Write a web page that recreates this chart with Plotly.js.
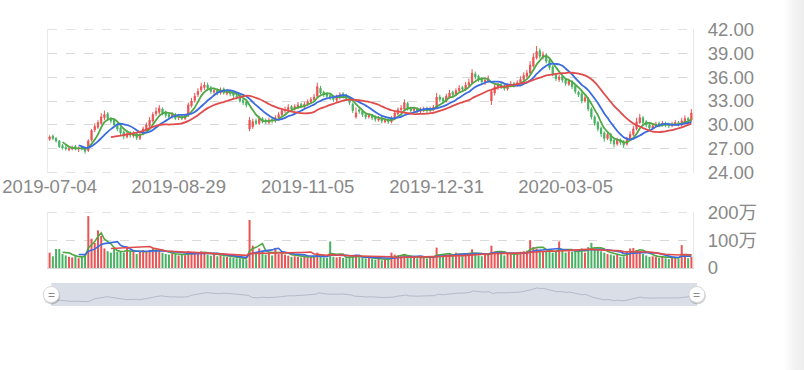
<!DOCTYPE html>
<html><head><meta charset="utf-8">
<script src="https://cdn.plot.ly/plotly-3.0.1.min.js"></script>
<style>
html,body{margin:0;padding:0;}
body{width:804px;height:370px;background:linear-gradient(to right,#ffffff 0px,#ffffff 784px,#f1f1f1 796px,#eeeeee 804px);overflow:hidden;}
#chart{width:804px;height:370px;}
</style>
</head><body><div id="chart"></div>
<script>
const dates = [
'2019-07-04','2019-07-05','2019-07-08','2019-07-09','2019-07-10','2019-07-11','2019-07-12','2019-07-15','2019-07-16','2019-07-17',
'2019-07-18','2019-07-19','2019-07-22','2019-07-23','2019-07-24','2019-07-25','2019-07-26','2019-07-29','2019-07-30','2019-07-31',
'2019-08-01','2019-08-02','2019-08-05','2019-08-06','2019-08-07','2019-08-08','2019-08-09','2019-08-12','2019-08-13','2019-08-14',
'2019-08-15','2019-08-16','2019-08-19','2019-08-20','2019-08-21','2019-08-22','2019-08-23','2019-08-26','2019-08-27','2019-08-28',
'2019-08-29','2019-08-30','2019-09-02','2019-09-03','2019-09-04','2019-09-05','2019-09-06','2019-09-09','2019-09-10','2019-09-11',
'2019-09-12','2019-09-16','2019-09-17','2019-09-18','2019-09-19','2019-09-20','2019-09-23','2019-09-24','2019-09-25','2019-09-26',
'2019-09-27','2019-10-09','2019-10-10','2019-10-11','2019-10-14','2019-10-15','2019-10-16','2019-10-17','2019-10-18','2019-10-21',
'2019-10-22','2019-10-23','2019-10-24','2019-10-25','2019-10-28','2019-10-29','2019-10-30','2019-10-31','2019-11-01','2019-11-04',
'2019-11-05','2019-11-06','2019-11-07','2019-11-08','2019-11-11','2019-11-12','2019-11-13','2019-11-14','2019-11-15','2019-11-18',
'2019-11-19','2019-11-20','2019-11-21','2019-11-22','2019-11-25','2019-11-26','2019-11-27','2019-11-28','2019-11-29','2019-12-02',
'2019-12-03','2019-12-04','2019-12-05','2019-12-06','2019-12-09','2019-12-10','2019-12-11','2019-12-12','2019-12-13','2019-12-16',
'2019-12-17','2019-12-18','2019-12-19','2019-12-20','2019-12-23','2019-12-24','2019-12-25','2019-12-26','2019-12-27','2019-12-30',
'2019-12-31','2020-01-02','2020-01-03','2020-01-06','2020-01-07','2020-01-08','2020-01-09','2020-01-10','2020-01-13','2020-01-14',
'2020-01-15','2020-01-16','2020-01-17','2020-01-20','2020-01-21','2020-01-22','2020-01-23','2020-02-03','2020-02-04','2020-02-05',
'2020-02-06','2020-02-07','2020-02-10','2020-02-11','2020-02-12','2020-02-13','2020-02-14','2020-02-17','2020-02-18','2020-02-19',
'2020-02-20','2020-02-21','2020-02-24','2020-02-25','2020-02-26','2020-02-27','2020-02-28','2020-03-02','2020-03-03','2020-03-04',
'2020-03-05','2020-03-06','2020-03-09','2020-03-10','2020-03-11','2020-03-12','2020-03-13','2020-03-16','2020-03-17','2020-03-18',
'2020-03-19','2020-03-20','2020-03-23','2020-03-24','2020-03-25','2020-03-26','2020-03-27','2020-03-30','2020-03-31','2020-04-01',
'2020-04-02','2020-04-03','2020-04-07','2020-04-08','2020-04-09','2020-04-10','2020-04-13','2020-04-14','2020-04-15','2020-04-16',
'2020-04-17','2020-04-20','2020-04-21','2020-04-22','2020-04-23','2020-04-24','2020-04-27','2020-04-28','2020-04-29','2020-04-30'
];
const openP = [
28.2,28.6,28.3,28.0,27.4,27.2,26.9,27.0,27.3,27.0,
27.2,26.9,26.8,28.1,29.4,29.7,30.2,30.9,31.4,30.7,
30.6,30.1,29.6,29.1,28.5,29.0,28.6,28.9,28.3,28.9,
29.4,29.9,30.5,31.4,31.6,32.0,31.6,31.3,31.0,31.3,
30.9,31.1,30.8,31.2,32.4,33.1,33.8,34.4,34.7,35.0,
34.7,34.1,34.4,34.0,34.5,33.9,34.2,34.0,33.6,33.6,
33.1,32.9,29.5,29.8,30.5,30.2,30.8,30.6,30.3,30.7,
30.5,30.9,31.3,31.8,31.9,32.3,32.0,32.2,32.6,32.3,
32.6,32.9,33.2,33.6,34.6,34.1,33.9,33.7,33.5,33.1,
33.4,33.9,33.7,33.4,32.6,31.0,31.9,31.7,31.3,31.0,
31.2,31.0,30.6,30.9,30.4,30.7,30.4,30.8,31.4,31.9,
32.0,32.7,32.1,31.8,32.0,31.7,31.8,32.1,31.8,31.9,
32.2,33.5,33.3,33.0,33.5,34.1,33.8,34.3,34.7,34.5,
35.0,35.3,36.4,36.1,35.8,35.3,35.5,33.0,34.0,34.7,
35.1,34.9,34.5,34.9,35.2,35.0,35.3,35.7,36.1,36.5,
37.4,38.4,39.3,38.5,38.8,38.1,37.3,36.3,35.7,36.1,
35.7,35.1,35.4,34.9,34.1,33.9,33.0,33.3,32.0,31.0,
30.3,29.6,29.0,28.3,28.8,28.1,27.6,28.1,27.9,27.6,
28.2,28.8,29.5,30.3,30.9,30.4,30.0,29.6,29.9,30.2,
30.0,30.2,30.1,29.9,30.1,30.3,30.0,30.4,30.8,30.6
];
const closeP = [
28.5,28.3,28.0,27.3,27.1,27.0,27.0,27.2,27.0,27.1,
27.0,26.7,28.0,29.3,29.8,30.3,31.0,31.3,30.8,30.5,
30.0,29.5,29.0,28.6,28.9,28.7,28.9,28.4,28.8,29.5,
30.0,30.6,31.3,31.7,32.1,31.5,31.2,31.0,31.3,30.8,
31.0,30.8,31.1,32.5,33.0,33.6,34.2,34.8,35.0,34.6,
34.2,34.3,34.0,34.4,34.0,34.2,33.9,33.7,33.5,33.0,
32.8,32.5,30.6,30.4,30.2,30.8,30.5,30.4,30.6,30.5,
30.9,31.3,31.8,31.9,32.2,32.0,32.3,32.5,32.4,32.6,
32.9,33.2,33.5,34.8,34.0,33.8,33.6,33.4,33.2,33.5,
33.8,33.6,33.3,32.8,31.8,31.5,31.7,31.3,31.0,31.2,
30.9,30.7,30.8,30.5,30.6,30.4,30.8,31.5,31.9,32.1,
32.8,32.0,31.8,32.0,31.7,31.9,32.0,31.8,32.0,32.2,
33.5,33.2,33.0,33.6,34.0,33.8,34.3,34.6,34.5,35.0,
35.3,36.5,36.0,35.7,35.4,35.6,35.8,34.2,34.8,35.0,
34.8,34.6,34.9,35.1,35.0,35.3,35.7,36.2,36.5,37.5,
38.5,39.2,38.6,38.8,38.0,37.2,36.4,35.8,36.0,35.6,
35.2,35.5,34.8,34.2,33.8,33.0,33.4,32.0,31.0,30.2,
29.5,28.9,28.3,28.8,28.0,27.6,28.1,27.8,27.5,28.2,
28.8,29.5,30.4,30.9,30.3,30.0,29.6,29.9,30.1,30.0,
30.2,30.0,29.9,30.1,30.3,30.0,30.5,30.8,30.6,31.5
];
const highP = [
28.7,28.8,28.5,28.1,27.6,27.4,27.2,27.4,27.5,27.3,
27.4,27.1,28.2,29.5,30.2,30.6,31.5,31.8,31.6,31.0,
30.8,30.3,29.8,29.3,29.2,29.2,29.2,29.0,29.0,29.8,
30.3,31.0,31.6,32.2,32.5,32.2,31.8,31.5,31.6,31.5,
31.3,31.3,31.4,32.8,33.4,34.0,34.6,35.3,35.4,35.3,
34.9,34.6,34.6,34.7,34.7,34.5,34.4,34.2,33.9,33.8,
33.3,33.1,31.0,30.8,30.8,31.1,31.0,30.8,30.9,30.9,
31.2,31.6,32.1,32.3,32.6,32.5,32.6,32.9,32.8,32.9,
33.2,33.5,33.9,35.3,34.9,34.3,34.1,33.9,33.7,33.8,
34.1,34.1,33.9,33.6,32.8,32.2,32.1,31.9,31.5,31.5,
31.4,31.2,31.1,31.1,30.9,30.9,31.1,31.8,32.2,32.5,
33.2,32.9,32.3,32.3,32.2,32.2,32.3,32.3,32.3,32.5,
34.0,33.8,33.5,33.9,34.4,34.3,34.6,35.0,34.9,35.4,
35.8,37.0,36.7,36.3,36.0,35.9,36.2,34.4,35.1,35.3,
35.3,35.1,35.2,35.5,35.4,35.6,36.1,36.6,36.9,38.0,
39.0,39.9,39.6,39.2,39.0,38.3,37.5,36.5,36.3,36.3,
35.9,35.8,35.6,35.1,34.3,34.1,33.7,33.5,32.2,31.2,
30.5,29.8,29.2,29.1,29.0,28.3,28.4,28.3,28.1,28.5,
29.2,29.9,30.9,31.4,31.1,30.6,30.2,30.2,30.4,30.4,
30.5,30.4,30.3,30.4,30.6,30.5,30.9,31.2,31.0,32.0
];
const lowP = [
28.0,28.1,27.8,27.1,26.9,26.8,26.7,26.8,26.8,26.6,
26.8,26.4,26.6,27.9,29.1,29.5,30.0,30.6,30.5,30.2,
29.8,29.2,28.7,28.2,28.3,28.4,28.4,28.1,28.1,28.7,
29.2,29.7,30.3,31.1,31.3,31.2,30.9,30.7,30.8,30.6,
30.6,30.6,30.6,31.0,32.2,32.8,33.5,34.1,34.4,34.3,
33.9,33.8,33.7,33.8,33.8,33.7,33.6,33.4,33.2,32.8,
32.5,32.2,29.2,29.5,30.0,30.0,30.2,30.1,30.1,30.2,
30.3,30.7,31.1,31.5,31.7,31.7,31.8,32.0,32.1,32.1,
32.4,32.7,33.0,33.4,33.8,33.5,33.3,33.1,32.9,32.9,
33.2,33.3,33.0,32.5,31.5,30.8,31.4,31.0,30.7,30.8,
30.6,30.4,30.4,30.2,30.2,30.1,30.2,30.6,31.2,31.7,
31.8,31.8,31.5,31.6,31.4,31.5,31.6,31.5,31.6,31.7,
32.0,32.9,32.7,32.8,33.3,33.5,33.6,34.1,34.2,34.3,
34.8,35.1,35.7,35.4,35.1,35.0,35.3,32.5,33.7,34.4,
34.5,34.3,34.3,34.7,34.7,34.8,35.1,35.5,35.9,36.3,
37.2,38.2,38.3,38.2,37.7,36.9,36.1,35.5,35.4,35.3,
34.9,34.9,34.5,33.9,33.5,32.7,32.8,31.7,30.7,29.9,
29.2,28.5,27.9,28.1,27.6,27.2,27.4,27.5,27.1,27.4,
28.0,28.6,29.3,30.1,30.0,29.7,29.3,29.4,29.7,29.7,
29.8,29.7,29.6,29.7,29.9,29.8,29.8,30.2,30.3,30.4
];
// volume in 万 (10,000 shares)
const volume = [
55,42,68,68,50,45,40,38,45,35,
42,50,186,105,90,135,115,70,60,55,
68,58,60,55,72,58,62,50,58,64,
60,65,70,62,66,55,50,48,52,50,
45,48,46,60,58,52,56,60,55,48,
44,50,42,45,42,40,38,36,35,34,
33,30,172,80,55,70,60,48,55,45,
72,50,55,48,44,40,42,40,38,42,
38,40,42,55,40,38,36,95,40,38,
40,36,35,40,42,48,38,36,35,38,
32,30,34,28,32,30,55,48,45,42,
50,40,36,40,35,38,40,34,38,42,
73,45,40,50,52,45,55,50,44,52,
55,67,50,45,42,48,50,80,60,55,
50,45,55,50,48,52,58,60,62,100,
75,70,65,60,62,58,55,60,95,62,
55,60,58,65,60,70,55,75,90,70,
65,60,55,50,48,45,50,40,42,60,
70,72,65,60,50,45,40,42,40,36,
40,35,32,38,40,34,82,45,35,40
];
const xTickLabels = ['2019-07-04','2019-08-29','2019-11-05','2019-12-31','2020-03-05'];
const priceTicks = [24,27,30,33,36,39,42];
const volTicks = [0,100,200];
const volTickText = ['0','100万','200万'];
const maPeriods = [5,10,20];

const UP = '#eb5454', DOWN = '#47b262';
const MA_COLORS = ['#4fa844','#3a6be0','#e04b4b'];
const FONT = 'Liberation Sans, Noto Sans CJK SC, sans-serif';
const LABEL = '#888888';
const FS = 18.5;
const GRID = '#d9d9d9';

function movingAverage(arr, n) {
  return arr.map((v, i) => {
    if (i < n - 1) return null;
    let s = 0;
    for (let k = i - n + 1; k <= i; k++) s += arr[k];
    return s / n;
  });
}

const traces = [];
traces.push({
  type: 'candlestick', x: dates, open: openP, high: highP, low: lowP, close: closeP,
  xaxis: 'x', yaxis: 'y', whiskerwidth: 0,
  increasing: {line: {color: UP, width: 1}, fillcolor: UP},
  decreasing: {line: {color: DOWN, width: 1}, fillcolor: DOWN},
  hoverinfo: 'skip'
});
maPeriods.forEach((p, k) => {
  traces.push({type: 'scatter', mode: 'lines', x: dates, y: movingAverage(closeP, p),
    xaxis: 'x', yaxis: 'y', line: {color: MA_COLORS[k], width: 1.8, shape: 'spline', smoothing: 0.6},
    hoverinfo: 'skip'});
});
traces.push({
  type: 'bar', x: dates, y: volume, xaxis: 'x2', yaxis: 'y2',
  marker: {color: closeP.map((c, i) => c >= openP[i] ? UP : DOWN), line: {width: 0}},
  hoverinfo: 'skip'
});
maPeriods.forEach((p, k) => {
  traces.push({type: 'scatter', mode: 'lines', x: dates, y: movingAverage(volume, p),
    xaxis: 'x2', yaxis: 'y2', line: {color: MA_COLORS[k], width: 1.6},
    hoverinfo: 'skip'});
});
traces.push({type: 'scatter', mode: 'lines', x: dates, y: closeP, xaxis: 'x3', yaxis: 'y3',
  line: {color: '#b4bbc8', width: 1}, hoverinfo: 'skip'});

const gridDash = {gridcolor: GRID, griddash: 'dash', gridwidth: 1};
const handleY = 0.0415;
function handle(xa) {
  return [
    {type: 'circle', xref: 'paper', yref: 'paper', xsizemode: 'pixel', ysizemode: 'pixel',
     xanchor: xa, yanchor: handleY, x0: -8, x1: 9, y0: -10, y1: 7,
     fillcolor: 'rgba(0,0,0,0.18)', line: {width: 0}},
    {type: 'circle', xref: 'paper', yref: 'paper', xsizemode: 'pixel', ysizemode: 'pixel',
     xanchor: xa, yanchor: handleY, x0: -8, x1: 8, y0: -8, y1: 8,
     fillcolor: '#ffffff', line: {color: '#d6d6d6', width: 1}}
  ];
}

const layout = {
  width: 804, height: 370,
  margin: {l: 48, r: 111, t: 29, b: 64},
  paper_bgcolor: 'rgba(0,0,0,0)', plot_bgcolor: 'rgba(0,0,0,0)',
  showlegend: false, hovermode: false, bargap: 0.38, boxgap: 0.45,
  font: {family: FONT, color: LABEL, size: FS},
  xaxis: {type: 'category', domain: [0, 1], anchor: 'y', tickmode: 'array', tickvals: xTickLabels,
    showgrid: false, zeroline: false, showline: false, ticks: '', rangeslider: {visible: false},
    tickfont: {family: FONT, size: FS, color: LABEL}, fixedrange: true},
  yaxis: Object.assign({domain: [0.4801, 1], anchor: 'x', range: [23.97, 42.03], tickmode: 'array', tickvals: priceTicks,
    tickformat: '.2f', side: 'right', zeroline: false, showline: true, mirror: true, linecolor: '#e8e8e8',
    ticks: '', ticklabelstandoff: 10, tickfont: {family: FONT, size: FS, color: LABEL}, fixedrange: true}, gridDash),
  xaxis2: {type: 'category', matches: 'x', domain: [0, 1], anchor: 'y2', showticklabels: false, showgrid: false,
    zeroline: false, showline: true, linecolor: '#d6d6d6', ticks: ''},
  yaxis2: Object.assign({domain: [0.1372, 0.3394], anchor: 'x2', range: [0, 200.8], tickmode: 'array', tickvals: volTicks,
    ticktext: volTickText, side: 'right', zeroline: false, showline: true, mirror: true, linecolor: '#e8e8e8',
    ticks: '', ticklabelstandoff: 10, tickfont: {family: FONT, size: FS, color: LABEL}}, gridDash),
  xaxis3: {type: 'category', matches: 'x', domain: [0.005, 1], anchor: 'y3', visible: false},
  yaxis3: {domain: [0, 0.083], anchor: 'x3', range: [22.8, 43.7], visible: false},
  shapes: [
    {type: 'rect', xref: 'paper', yref: 'paper', x0: 0.005, x1: 1.006, y0: 0, y1: 0.083,
     fillcolor: '#d9dee7', line: {width: 0}, layer: 'below'},
    {type: 'line', xref: 'x domain', yref: 'y', x0: 0, x1: 1, y0: priceTicks[0], y1: priceTicks[0],
     line: {color: GRID, width: 1, dash: 'dash'}, layer: 'below'},
    {type: 'line', xref: 'x domain', yref: 'y', x0: 0, x1: 1, y0: priceTicks[priceTicks.length - 1], y1: priceTicks[priceTicks.length - 1],
     line: {color: GRID, width: 1, dash: 'dash'}, layer: 'below'},
    {type: 'line', xref: 'x2 domain', yref: 'y2', x0: 0, x1: 1, y0: volTicks[volTicks.length - 1], y1: volTicks[volTicks.length - 1],
     line: {color: GRID, width: 1, dash: 'dash'}, layer: 'below'}
  ].concat(handle(0.005)).concat(handle(1.006)),
  annotations: [0.005, 1.006].map(xa => ({xref: 'paper', yref: 'paper', x: xa, y: handleY,
    text: '=', showarrow: false, font: {family: FONT, size: 12, color: '#8a8a8a'}, xanchor: 'center', yanchor: 'middle'}))
};

Plotly.newPlot('chart', traces, layout, {staticPlot: true, displayModeBar: false});
</script>
</body></html>
